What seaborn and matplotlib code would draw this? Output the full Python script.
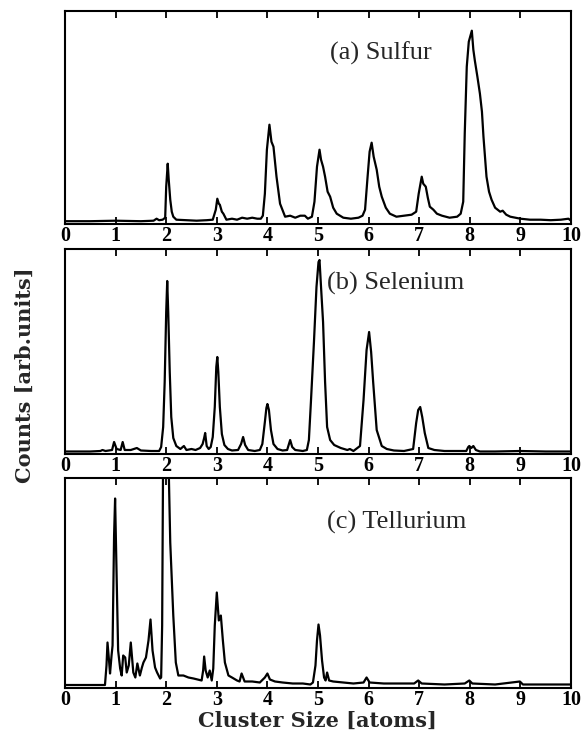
import matplotlib
matplotlib.use("Agg")
import matplotlib.pyplot as plt
import seaborn as sns
import pandas as pd

# ---------------- data ----------------
tick_values = list(range(0, 11))
tick_labels = [str(v) for v in tick_values]

panel_titles = ["(a) Sulfur", "(b) Selenium", "(c) Tellurium"]
x_label = "Cluster Size [atoms]"
y_label = "Counts [arb.units]"

sulfur_size = [
    0.0, 0.5, 1.0, 1.5, 1.75, 1.81, 1.86, 1.93, 1.98, 2.0,
    2.03, 2.05, 2.08, 2.11, 2.14, 2.2, 2.4, 2.6, 2.8, 2.92,
    2.98, 3.01, 3.04, 3.06, 3.1, 3.13, 3.19, 3.3, 3.4, 3.5,
    3.6, 3.7, 3.8, 3.87, 3.91, 3.95, 3.99, 4.04, 4.08, 4.12,
    4.18, 4.25, 4.35, 4.45, 4.55, 4.65, 4.74, 4.8, 4.88, 4.93,
    4.98, 5.03, 5.06, 5.1, 5.14, 5.19, 5.24, 5.3, 5.37, 5.5,
    5.65, 5.8, 5.88, 5.93, 5.98, 6.02, 6.06, 6.1, 6.16, 6.21,
    6.26, 6.34, 6.42, 6.55, 6.7, 6.85, 6.94, 6.99, 7.05, 7.08,
    7.13, 7.17, 7.21, 7.28, 7.35, 7.45, 7.6, 7.75, 7.82, 7.87,
    7.9, 7.94, 7.98, 8.04, 8.07, 8.1, 8.15, 8.2, 8.24, 8.27,
    8.33, 8.38, 8.43, 8.5, 8.55, 8.6, 8.65, 8.72, 8.8, 8.9,
    9.0, 9.19, 9.4, 9.6, 9.8, 9.95, 10.0,
]
sulfur_counts = [
    0.5, 0.5, 1, 0.5, 1, 3, 1.5, 2, 4, 35,
    58, 42, 22, 10, 5, 2, 1.5, 1, 1.5, 2,
    12, 23, 18, 17, 10, 8, 2, 3, 2, 4,
    3, 4, 3, 3, 6, 28, 72, 97, 80, 75,
    45, 18, 5, 6, 4, 6, 6, 3, 5, 20,
    55, 72, 62, 55, 45, 30, 25, 14, 8, 4,
    3, 4, 6, 12, 45, 70, 79, 65, 52, 35,
    25, 14, 8, 5, 6, 7, 10, 28, 45, 38,
    35, 24, 15, 12, 8, 6, 4, 5, 8, 20,
    88, 155, 180, 191, 172, 161, 145, 128, 110, 85,
    45, 30, 22, 14, 12, 10, 11, 7, 5, 4,
    3, 2, 2, 1.5, 2, 3, 1,
]

selenium_size = [
    0.0, 0.5, 0.7, 0.74, 0.8, 0.93, 0.97, 1.02, 1.1, 1.14,
    1.18, 1.3, 1.42, 1.5, 1.7, 1.86, 1.9, 1.94, 1.97, 2.0,
    2.02, 2.04, 2.07, 2.1, 2.14, 2.2, 2.28, 2.35, 2.4, 2.5,
    2.58, 2.67, 2.72, 2.75, 2.77, 2.8, 2.84, 2.88, 2.92, 2.96,
    2.99, 3.01, 3.03, 3.06, 3.1, 3.15, 3.22, 3.3, 3.42, 3.48,
    3.52, 3.56, 3.62, 3.75, 3.85, 3.9, 3.95, 3.98, 4.0, 4.03,
    4.07, 4.12, 4.2, 4.3, 4.39, 4.42, 4.45, 4.49, 4.55, 4.7,
    4.78, 4.82, 4.86, 4.92, 4.97, 5.01, 5.03, 5.06, 5.1, 5.14,
    5.18, 5.24, 5.32, 5.45, 5.58, 5.63, 5.7, 5.83, 5.9, 5.96,
    6.01, 6.05, 6.09, 6.16, 6.26, 6.36, 6.5, 6.7, 6.88, 6.94,
    6.98, 7.02, 7.06, 7.11, 7.18, 7.3, 7.5, 7.7, 7.93, 7.97,
    7.99, 8.03, 8.07, 8.12, 8.2, 8.5, 9.0, 9.5, 10.0,
]
selenium_counts = [
    0.5, 0.5, 1, 2, 1, 2, 10, 3, 2, 10,
    2, 2, 4, 1.5, 1, 1, 5, 25, 70, 140,
    171, 140, 80, 35, 14, 6, 3, 6, 2, 3,
    2, 4, 8, 14, 19, 6, 3, 5, 15, 45,
    85, 95, 80, 45, 18, 7, 3, 1.5, 2, 8,
    15, 7, 2, 1, 2, 8, 30, 44, 48, 42,
    22, 8, 3, 1.5, 2, 7, 12, 5, 2, 1,
    2, 12, 50, 110, 165, 190, 192, 165, 130, 70,
    25, 12, 7, 4, 2, 3, 1, 6, 52, 102,
    120, 100, 70, 22, 6, 3, 1.5, 1, 3, 29,
    42, 45, 35, 19, 4, 2, 1, 1, 1, 5,
    6, 4, 6, 2, 0.5, 0.5, 1, 0.5, 0.5,
]

tellurium_size = [
    0.0, 0.5, 0.79, 0.82, 0.84, 0.87, 0.89, 0.92, 0.94, 0.97,
    0.99, 1.02, 1.05, 1.09, 1.12, 1.15, 1.19, 1.22, 1.26, 1.3,
    1.35, 1.39, 1.43, 1.48, 1.52, 1.55, 1.6, 1.65, 1.69, 1.73,
    1.78, 1.82, 1.88, 1.9, 1.92, 1.94, 2.0, 2.04, 2.08, 2.14,
    2.19, 2.24, 2.34, 2.44, 2.54, 2.62, 2.7, 2.73, 2.75, 2.78,
    2.82, 2.86, 2.9, 2.93, 2.96, 3.0, 3.04, 3.08, 3.12, 3.16,
    3.23, 3.3, 3.4, 3.45, 3.49, 3.55, 3.7, 3.85, 3.95, 4.0,
    4.05, 4.15, 4.3, 4.5, 4.7, 4.85, 4.9, 4.95, 4.98, 5.01,
    5.04, 5.08, 5.12, 5.15, 5.18, 5.22, 5.3, 5.5, 5.7, 5.9,
    5.96, 6.02, 6.3, 6.6, 6.9, 6.98, 7.05, 7.5, 7.9, 7.99,
    8.05, 8.5, 8.99, 9.05, 9.5, 10.0,
]
tellurium_counts = [
    0.5, 0.5, 0.5, 20, 43, 25, 12, 30, 40, 150,
    187, 110, 35, 17, 10, 30, 28, 13, 20, 43,
    13, 8, 22, 10, 18, 23, 28, 45, 66, 35,
    18, 13, 7, 8, 60, 240, 260, 240, 143, 70,
    23, 10, 10, 8, 7, 6, 5, 15, 29, 15,
    8, 15, 5, 17, 60, 93, 65, 70, 45, 23,
    10, 8, 5, 4, 12, 4, 4, 3, 8, 12,
    6, 4, 3, 2, 2, 1, 3, 20, 45, 61,
    50, 25, 8, 5, 13, 5, 4, 3, 2, 3,
    8, 3, 2, 2, 2, 5, 2, 1, 2, 5,
    2, 1, 4, 1, 1, 1,
]

# ---------------- layout / style ----------------
sns.set_style("ticks")
plt.rcParams['font.family'] = ['Liberation Serif', 'DejaVu Serif']

W, H = 583, 737
fig = plt.figure(figsize=(W / 100, H / 100), dpi=100)
fig.patch.set_facecolor("white")


def add_axes_px(left, top, right, bottom):
    return fig.add_axes([left / W, 1 - bottom / H, (right - left) / W, (bottom - top) / H])


panels = [
    (sulfur_size, sulfur_counts, panel_titles[0], (65, 11, 571, 224), (-2.3, 210.7), (0.524, 0.80)),
    (selenium_size, selenium_counts, panel_titles[1], (65, 249, 571, 454), (-2.0, 203.0), (0.517, 0.83)),
    (tellurium_size, tellurium_counts, panel_titles[2], (65, 478, 571, 688), (-2.5, 207.5), (0.518, 0.786)),
]

for xs, ys, title, box, ylim, tpos in panels:
    ax = add_axes_px(*box)
    df = pd.DataFrame({"size": xs, "counts": ys})
    sns.lineplot(data=df, x="size", y="counts", ax=ax, color="black",
                 linewidth=1.6, estimator=None, sort=False)
    ax.set_xlim(0, 10)
    ax.set_ylim(*ylim)
    ax.set_yticks([])
    ax.set_xticks(tick_values)
    ax.set_xticklabels(tick_labels, fontsize=14.5, fontweight="bold",
                       family=["Liberation Serif"])
    ax.tick_params(axis="x", direction="in", top=True, bottom=True,
                   length=5, width=1.3, pad=1.5, colors="black")
    ax.set_xlabel("")
    ax.set_ylabel("")
    for sp in ax.spines.values():
        sp.set_linewidth(1.5)
        sp.set_color("black")
    ax.text(tpos[0], tpos[1], title, transform=ax.transAxes, ha="left", va="center",
            fontsize=19, family=["Liberation Serif"])

fig.text(317 / W, 1 - 721 / H, x_label, ha="center", va="center",
         fontsize=15, fontweight="bold", family=["DejaVu Serif"])
fig.text(25 / W, 1 - 375 / H, y_label, ha="center", va="center", rotation=90,
         fontsize=15, fontweight="bold", family=["DejaVu Serif"])

fig.savefig("out.png", dpi=100, facecolor="white")
